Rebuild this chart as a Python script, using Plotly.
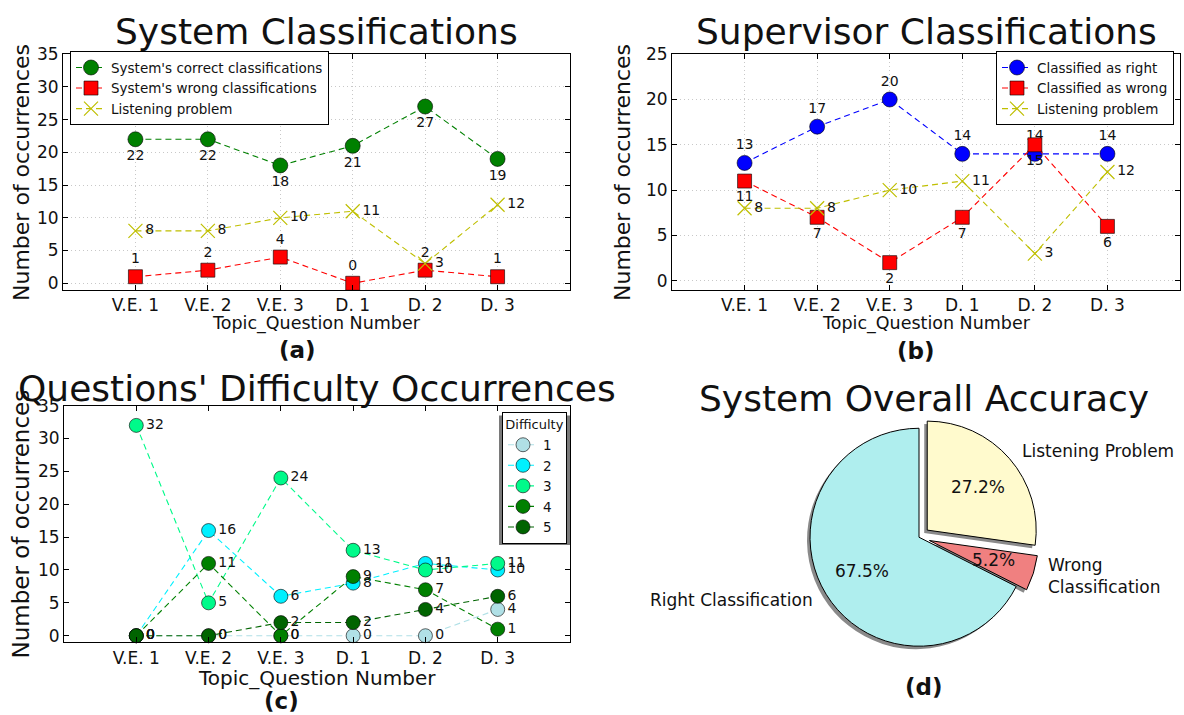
import math
import plotly.graph_objects as go

W, H = 1184, 715
FONT = "DejaVu Sans"

# ---------------- data ----------------
questions = ["V.E. 1", "V.E. 2", "V.E. 3", "D. 1", "D. 2", "D. 3"]

sys_correct = [22, 22, 18, 21, 27, 19]
sys_wrong = [1, 2, 4, 0, 2, 1]
sys_listening = [8, 8, 10, 11, 3, 12]

sup_right = [13, 17, 20, 14, 14, 14]
sup_wrong = [11, 7, 2, 7, 15, 6]
sup_listening = [8, 8, 10, 11, 3, 12]

difficulty_levels = ["1", "2", "3", "4", "5"]
diff_1 = [0, 0, 0, 0, 0, 4]
diff_2 = [0, 16, 6, 8, 11, 10]
diff_3 = [32, 5, 24, 13, 10, 11]
diff_4 = [0, 11, 0, 9, 7, 1]
diff_5 = [0, 0, 2, 2, 4, 6]

pie_labels = ["Listening Problem", "Wrong<br>Classification", "Right Classification"]
pie_values = [52, 10, 129]
pie_pull = [0.1, 0.1, 0.0]

# ---------------- helpers ----------------
def px(x):
    return x / W

def py(y):
    return 1 - y / H

DASH = "6px,4px"
EDGE = dict(color="rgba(0,0,0,0.75)", width=0.8)
GRID = dict(showgrid=True, gridcolor="#c8c8c8", griddash="1px,3px", gridwidth=1)

fig = go.Figure()


def line_trace(x, y, name, color, symbol, size, textpos, xa, ya, leg, xsym=False):
    if xsym:
        marker = dict(symbol="x-thin", size=size, color=color, line=dict(color=color, width=1.2))
    else:
        marker = dict(symbol=symbol, size=size, color=color, line=EDGE)
    return go.Scatter(
        x=x, y=y, name=name, mode="lines+markers+text",
        line=dict(color=color, dash=DASH, width=1.1),
        marker=marker,
        text=[str(v) for v in y], textposition=textpos,
        textfont=dict(family=FONT, size=14, color="#111"),
        xaxis=xa, yaxis=ya, legend=leg, cliponaxis=False,
    )

# (a)
fig.add_trace(line_trace(questions, sys_correct, "System's correct classifications", "#008000", "circle", 15, "bottom center", "x", "y", "legend"))
fig.add_trace(line_trace(questions, sys_wrong, "System's wrong classifications", "#FF0000", "square", 14, "top center", "x", "y", "legend"))
fig.add_trace(line_trace(questions, sys_listening, "Listening problem", "#BFBF00", "x", 14, "middle right", "x", "y", "legend", xsym=True))

# (b)
fig.add_trace(line_trace(questions, sup_right, "Classified as right", "#0000FF", "circle", 15, "top center", "x2", "y2", "legend2"))
fig.add_trace(line_trace(questions, sup_wrong, "Classified as wrong", "#FF0000", "square", 14, "bottom center", "x2", "y2", "legend2"))
fig.add_trace(line_trace(questions, sup_listening, "Listening problem", "#BFBF00", "x", 14, "middle right", "x2", "y2", "legend2", xsym=True))

# (c)
diff_series = [diff_1, diff_2, diff_3, diff_4, diff_5]
diff_colors = ["#B0E0E6", "#00F0FF", "#00FA8A", "#008000", "#006400"]
for lvl, ys, col in zip(difficulty_levels, diff_series, diff_colors):
    fig.add_trace(line_trace(questions, ys, lvl, col, "circle", 14, "middle right", "x3", "y3", "legend3"))

# (d) pie with shadow
cx, cy, r = 919, 537, 111
half = r * (1 + max(pie_pull))
dom_x = [px(cx - half), px(cx + half)]
dom_y = [py(cy + half), py(cy - half)]
sh = 3
fig.add_trace(go.Pie(
    values=pie_values, labels=pie_labels, sort=False, direction="clockwise", rotation=0,
    pull=pie_pull, textinfo="none", hoverinfo="skip", showlegend=False,
    marker=dict(colors=["#8a8a8a"] * 3, line=dict(width=0)),
    domain=dict(x=[dom_x[0] - sh / W, dom_x[1] - sh / W], y=[dom_y[0] - sh / H, dom_y[1] - sh / H]),
))
fig.add_trace(go.Pie(
    values=pie_values, labels=pie_labels, sort=False, direction="clockwise", rotation=0,
    pull=pie_pull, textinfo="none", showlegend=False,
    marker=dict(colors=["#FFFACD", "#F08080", "#AFEEEE"], line=dict(color="black", width=1)),
    domain=dict(x=dom_x, y=dom_y),
))

annotations = []
total = sum(pie_values)
theta = 90.0
for lab, v, e in zip(pie_labels, pie_values, pie_pull):
    t2 = theta - 360.0 * v / total
    mid = math.radians((theta + t2) / 2)
    theta = t2
    ccx = cx + e * r * math.cos(mid)
    ccy = cy - e * r * math.sin(mid)
    annotations.append(dict(
        x=px(ccx + 0.6 * r * math.cos(mid)), y=py(ccy - 0.6 * r * math.sin(mid)),
        xref="paper", yref="paper", showarrow=False,
        text=f"{100 * v / total:.1f}%", font=dict(family=FONT, size=17, color="#111"),
        xanchor="center", yanchor="middle"))
    lx = ccx + 1.1 * r * math.cos(mid)
    ly = ccy - 1.1 * r * math.sin(mid)
    annotations.append(dict(
        x=px(lx), y=py(ly), xref="paper", yref="paper", showarrow=False,
        text=lab, font=dict(family=FONT, size=17, color="#111"), align="left",
        xanchor="left" if math.cos(mid) > 0 else "right", yanchor="middle"))

# ---------------- axes ----------------
def xaxis(dom, anchor):
    return dict(domain=dom, anchor=anchor, type="category", categoryorder="array",
                categoryarray=questions, range=[-1, 6],
                showline=True, linecolor="black", linewidth=1, mirror="allticks",
                ticks="inside", ticklen=5, tickcolor="black",
                tickfont=dict(family=FONT, size=17, color="#111"), zeroline=False)

def yaxis(dom, anchor, rng):
    return dict(domain=dom, anchor=anchor, range=rng, dtick=5, tick0=0,
                showline=True, linecolor="black", linewidth=1, mirror="allticks",
                ticks="inside", ticklen=5, tickcolor="black",
                tickfont=dict(family=FONT, size=17, color="#111"), zeroline=False)

ya_dom = [py(285), py(45)]
yc_dom = [py(644), py(403)]
fig.update_layout(
    xaxis=dict(**xaxis([px(63), px(570)], "y"), **GRID),
    yaxis=dict(**yaxis(ya_dom, "x", [-1, 35]), **GRID),
    xaxis2=dict(**xaxis([px(672), px(1180)], "y2"), **GRID),
    yaxis2=dict(**yaxis(ya_dom, "x2", [-1, 25]), **GRID),
    xaxis3=dict(**xaxis([px(64), px(570)], "y3"), showgrid=False),
    yaxis3=dict(**yaxis(yc_dom, "x3", [-1, 35]), showgrid=False),
)

def text_ann(x, y, text, size, bold=False, angle=0):
    t = f"<b>{text}</b>" if bold else text
    return dict(x=px(x), y=py(y), xref="paper", yref="paper", showarrow=False,
                text=t, textangle=angle, font=dict(family=FONT, size=size, color="#111"),
                xanchor="center", yanchor="middle")

annotations += [
    text_ann(316.5, 22, "System Classifications", 36),
    text_ann(926, 22, "Supervisor Classifications", 36),
    text_ann(317, 385, "Questions' Difficulty Occurrences", 36),
    text_ann(924, 396, "System Overall Accuracy", 36),
    text_ann(316.5, 319, "Topic_Question Number", 17.5),
    text_ann(926, 319, "Topic_Question Number", 17.5),
    text_ann(317, 680, "Topic_Question Number", 20),
    text_ann(297, 346, "(a)", 23, bold=True),
    text_ann(916, 347, "(b)", 23, bold=True),
    text_ann(281, 704, "(c)", 23, bold=True),
    text_ann(924, 690, "(d)", 23, bold=True),
    text_ann(22, 166, "Number of occurrences", 22, angle=-90),
    text_ann(623, 166, "Number of occurrences", 22, angle=-90),
    text_ann(21, 524, "Number of occurrences", 23, angle=-90),
]

# shadow behind the Difficulty legend
shapes = [dict(type="rect", xref="paper", yref="paper",
               x0=px(499), x1=px(570), y0=py(545), y1=py(413),
               fillcolor="#7a7a7a", line=dict(width=0), layer="above")]

legend_common = dict(bgcolor="white", bordercolor="black", borderwidth=1,
                     font=dict(family=FONT, size=13.5, color="#111"))
fig.update_layout(
    width=W, height=H, margin=dict(l=0, r=0, t=0, b=0),
    paper_bgcolor="white", plot_bgcolor="white",
    font=dict(family=FONT, color="#111"),
    annotations=annotations, shapes=shapes,
    legend=dict(**legend_common, x=px(70), y=py(42), xanchor="left", yanchor="top"),
    legend2=dict(**legend_common, x=px(1174), y=py(42), xanchor="right", yanchor="top"),
    legend3=dict(**legend_common, x=px(567), y=py(409), xanchor="right", yanchor="top",
                 title=dict(text="Difficulty", side="top center", font=dict(family=FONT, size=13))),
)

fig.write_html("out.html")
